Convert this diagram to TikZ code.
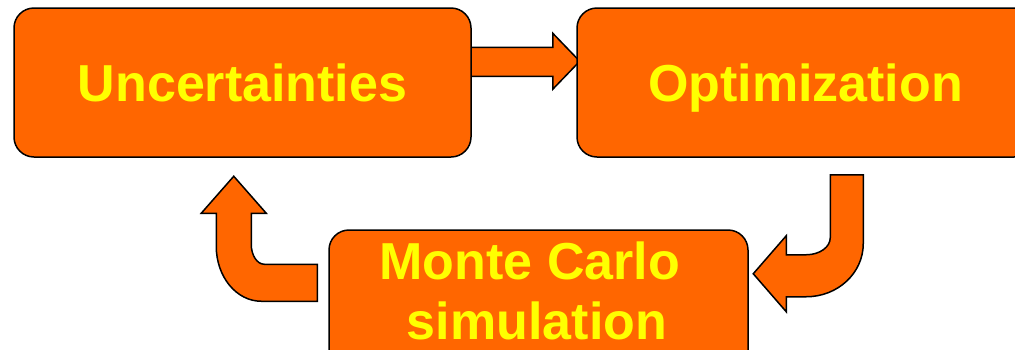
\documentclass[tikz,border=0pt]{standalone}
\usepackage{fontspec}
\setmainfont{Liberation Sans}
\usetikzlibrary{backgrounds}
\definecolor{boxorange}{HTML}{FF6600}
\definecolor{labelyellow}{HTML}{FFFF00}

\begin{document}
\begin{tikzpicture}[x=1pt,y=-1pt,
  labelfont/.style={text=labelyellow, font=\fontsize{52}{60}\selectfont\bfseries},
  stagebox/.style={draw=black, line width=1.5pt, fill=boxorange,
    rounded corners=20pt, inner sep=0pt, minimum width=457pt,
    minimum height=149pt, labelfont, text height=38pt, text depth=0pt},
  blockarrow/.style={draw=black, line width=1.5pt, fill=boxorange, line join=miter}]
\useasboundingbox (0,0) rectangle (1015,349);
\clip (0,0) rectangle (1015,349);

% the three stages of the loop
\node[stagebox] (u) at (242.5,82.5) {Uncertainties};
\node[stagebox] (o) at (805.5,82.5) {Optimization};
\node[stagebox, minimum width=419pt] (mc) at (538.5,304.5) {};
\node[labelfont, align=center, inner sep=0pt, anchor=north] (mctext)
  at (537,241.5) {Monte Carlo\hspace*{.278em}\\simulation};

\begin{pgfonlayer}{background}
  % straight arrow: Uncertainties -> Optimization
  \begin{scope}[shift={(u.north east)}]
    \draw[blockarrow] (-6,40) -- (81,40) -- (81,26) -- (108,54)
      -- (81,82) -- (81,69) -- (-6,69) -- cycle;
  \end{scope}
  % bent arrow: Optimization -> Monte Carlo simulation
  \begin{scope}[shift={(o.south west)}]
    \draw[blockarrow] (254,17) -- (287,17) -- (287,86)
      .. controls (287,115.3) and (261.5,139) .. (230,139)
      -- (210,139) -- (210,154) -- (177,116) -- (210,78) -- (210,97)
      -- (230,97) .. controls (243.3,97) and (254,89.4) .. (254,80) -- cycle;
  \end{scope}
  % bent arrow: Monte Carlo simulation -> Uncertainties
  \begin{scope}[shift={(mc.north west)}]
    \draw[blockarrow] (-11,35) -- (-64,35)
      .. controls (-71.2,35) and (-77,26) .. (-77,15)
      -- (-77,-16) -- (-62,-16) -- (-94.5,-53) -- (-127,-16) -- (-112,-16)
      -- (-112,17) .. controls (-112,47.4) and (-91.9,72) .. (-67,72)
      -- (-11,72) -- cycle;
  \end{scope}
\end{pgfonlayer}
\end{tikzpicture}
\end{document}
